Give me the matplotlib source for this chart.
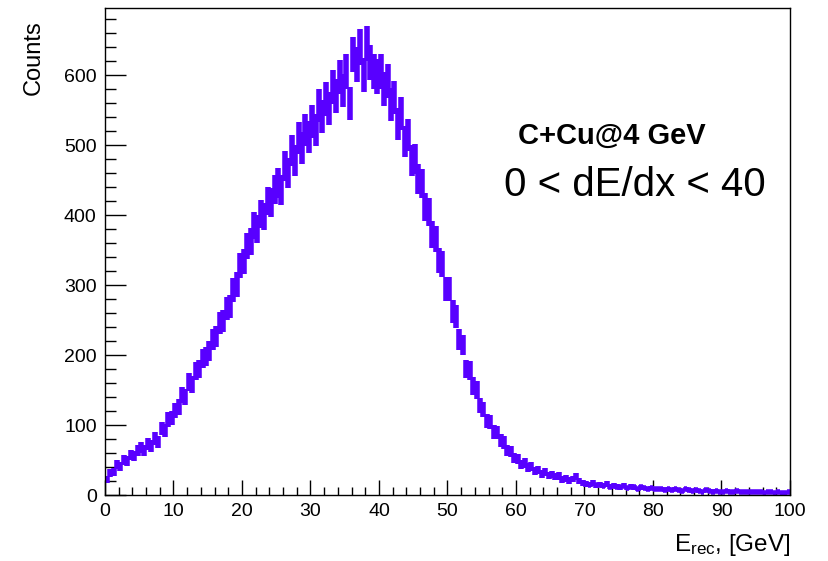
import numpy as np
import matplotlib
matplotlib.use("Agg")
import matplotlib.pyplot as plt
from matplotlib.ticker import MultipleLocator

plt.rcParams['font.family'] = ['Liberation Sans', 'DejaVu Sans']
plt.rcParams['mathtext.fontset'] = 'custom'
plt.rcParams['mathtext.rm'] = 'Liberation Sans'
plt.rcParams['mathtext.it'] = 'Liberation Sans:italic'

# Histogram: 200 bins of 0.5 GeV from 0 to 100 GeV
bin_edges_lo = 0.0
bin_edges_hi = 100.0
n_bins = 200

counts = [
    22, 31, 33, 44, 41, 50, 49, 57, 56, 63,
    68, 64, 73, 70, 81, 76, 95, 92, 108, 110,
    121, 126, 143, 140, 162, 158, 177, 180, 195, 198,
    206, 222, 227, 246, 249, 266, 270, 293, 301, 328,
    334, 356, 362, 385, 380, 401, 398, 420, 418, 437,
    446, 436, 470, 460, 492, 478, 510, 496, 522, 512,
    534, 522, 556, 541, 566, 552, 583, 570, 597, 578,
    605, 560, 630, 615, 640, 600, 645, 618, 605, 598,
    605, 580, 592, 558, 568, 530, 545, 505, 515, 478,
    480, 452, 445, 412, 405, 372, 366, 335, 330, 295,
    294, 262, 255, 222, 214, 180, 178, 156, 150, 128,
    122, 106, 104, 90, 89, 78, 75, 63, 62, 53,
    52, 44, 46, 39, 41, 34, 36, 30, 33, 28,
    29, 26, 27, 22, 24, 21, 23, 26, 20, 17,
    16, 15, 17, 14, 15, 13, 16, 12, 13, 12,
    11, 13, 10, 12, 11, 9, 11, 10, 9, 10,
    8, 9, 8, 7, 9, 7, 8, 7, 6, 8,
    7, 6, 7, 6, 5, 7, 6, 5, 6, 5,
    5, 6, 5, 4, 6, 5, 4, 5, 5, 4,
    4, 5, 3, 4, 4, 3, 4, 3, 3, 4,
]

x_title = r'E$_{\rm rec}$, [GeV]'
y_title = 'Counts'
label1 = 'C+Cu@4 GeV'
label2 = '0 < dE/dx < 40'

edges = np.linspace(bin_edges_lo, bin_edges_hi, n_bins + 1)
centers = 0.5 * (edges[:-1] + edges[1:])
half_w = 0.5 * (edges[1] - edges[0])
y = np.array(counts, dtype=float)
yerr = np.sqrt(y)

W, H = 829, 561
fig = plt.figure(figsize=(W / 100, H / 100), dpi=100)
ax = fig.add_axes([105 / W, 1 - 495 / H, (790 - 105) / W, (495 - 8) / H])

color = '#5800ff'
ax.errorbar(centers, y, xerr=half_w, yerr=yerr, fmt='none',
            ecolor=color, elinewidth=4.0, capsize=0)

ax.set_xlim(0, 100)
ax.set_ylim(0, 696)

ax.xaxis.set_major_locator(MultipleLocator(10))
ax.xaxis.set_minor_locator(MultipleLocator(2))
ax.yaxis.set_major_locator(MultipleLocator(100))
ax.yaxis.set_minor_locator(MultipleLocator(20))

ax.tick_params(axis='both', which='both', direction='in', top=False, right=False,
               labelsize=14, width=1, color='black')
ax.tick_params(axis='x', which='major', length=10.5, pad=6)
ax.tick_params(axis='x', which='minor', length=6)
ax.tick_params(axis='y', which='major', length=15, pad=6)
ax.tick_params(axis='y', which='minor', length=8)

for s in ax.spines.values():
    s.set_linewidth(1.0)
    s.set_color('black')

fig.text(790 / W, 1 - 551 / H, x_title, ha='right', va='baseline', fontsize=17.5)
fig.text(45 / W, 1 - 20 / H, y_title, ha='right', va='top', rotation=90, fontsize=17)

fig.text(518 / W, 1 - 144 / H, label1, ha='left', va='baseline', fontsize=21,
         fontweight='bold')
fig.text(504 / W, 1 - 196 / H, label2, ha='left', va='baseline', fontsize=29)

fig.savefig('out.png', dpi=100)
